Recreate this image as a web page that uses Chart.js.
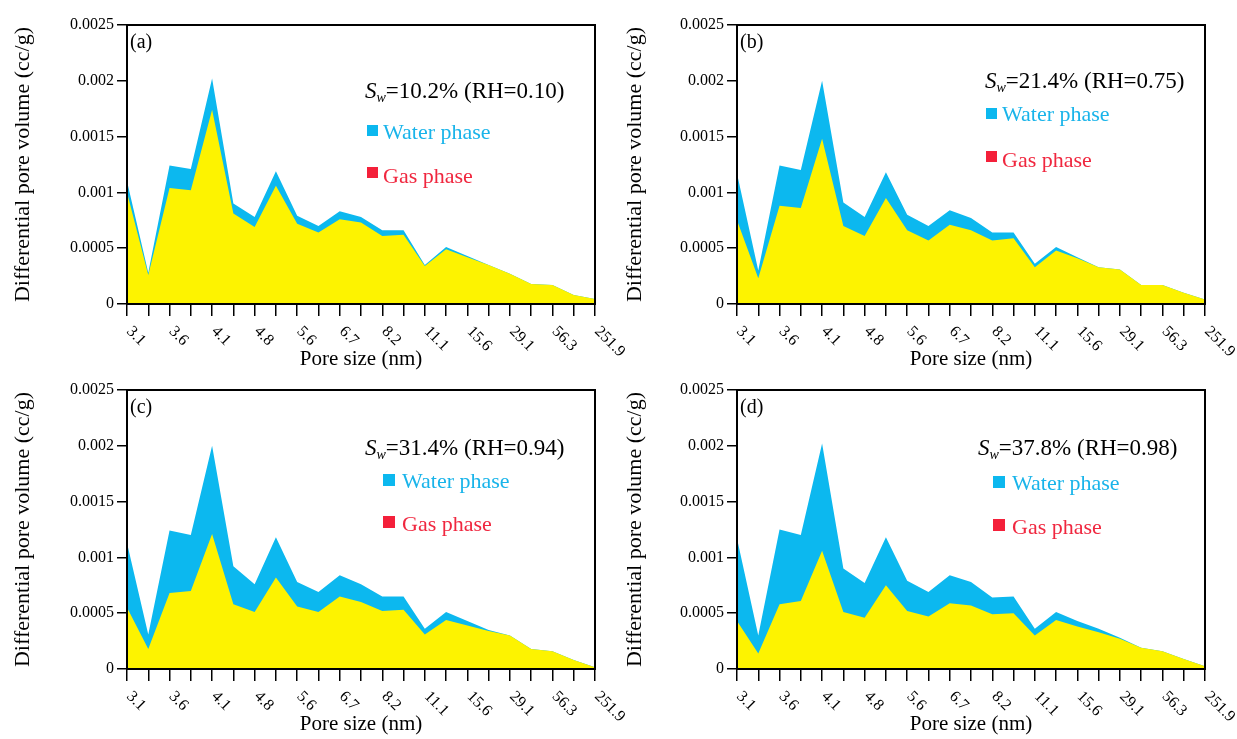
<!DOCTYPE html>
<html><head><meta charset="utf-8">
<script src="https://cdn.jsdelivr.net/npm/chart.js@4.4.1/dist/chart.umd.min.js"></script>
<style>
html,body{margin:0;padding:0;background:#fff;}
#wrap{position:relative;width:1237px;height:739px;overflow:hidden;background:#fff;}
canvas{position:absolute;}
</style></head><body>
<div id="wrap">
<canvas id="ca"></canvas><canvas id="cb"></canvas><canvas id="cc"></canvas><canvas id="cd"></canvas>
</div>
<script>
// ---- data ----
const categories = ['3.1','','3.6','','4.1','','4.8','','5.6','','6.7','','8.2','','11.1','','15.6','','29.1','','56.3','','251.9'];
const panelTags = ['(a)','(b)','(c)','(d)'];
const swValues = ['10.2%','21.4%','31.4%','37.8%'];
const rhValues = ['0.10','0.75','0.94','0.98'];
const seriesNames = ['Water phase','Gas phase'];

const totalA = [0.00110,0.00028,0.00124,0.00121,0.00202,0.00090,0.00078,0.00119,0.00079,0.00070,0.00083,0.00078,0.00066,0.00066,0.00035,0.00051,0.00043,0.00035,0.00027,0.00018,0.00017,0.00008,0.000045];
const gasA   = [0.00100,0.00026,0.00104,0.00102,0.00174,0.00081,0.00069,0.00106,0.00072,0.00064,0.00076,0.00073,0.00061,0.00062,0.00034,0.00049,0.00042,0.00035,0.00027,0.00018,0.00017,0.00008,0.000045];
const totalB = [0.00117,0.00030,0.00124,0.00120,0.00200,0.00091,0.00078,0.00118,0.00080,0.00070,0.00084,0.00077,0.00064,0.00064,0.00036,0.00051,0.00042,0.00033,0.00031,0.00017,0.00017,0.00010,0.00004];
const gasB   = [0.00075,0.00023,0.00088,0.00086,0.00148,0.00070,0.00061,0.00095,0.00066,0.00057,0.00071,0.00066,0.00057,0.00059,0.00033,0.00048,0.00041,0.00033,0.00031,0.00017,0.00017,0.00010,0.00004];
const totalC = [0.00113,0.00031,0.00124,0.00120,0.00200,0.00092,0.00076,0.00118,0.00078,0.00069,0.00084,0.00076,0.00065,0.00065,0.00036,0.00051,0.00043,0.00035,0.00030,0.00018,0.00016,0.00008,0.000015];
const gasC   = [0.00055,0.00018,0.00068,0.00070,0.00121,0.00058,0.00051,0.00082,0.00056,0.00051,0.00065,0.00060,0.00052,0.00053,0.00031,0.00044,0.00039,0.00034,0.00030,0.00018,0.00016,0.00008,0.000015];
const totalD = [0.00117,0.00030,0.00125,0.00120,0.00202,0.00090,0.00077,0.00118,0.00079,0.00069,0.00084,0.00078,0.00064,0.00065,0.00036,0.00051,0.00043,0.00036,0.00028,0.00019,0.00016,0.00009,0.000024];
const gasD   = [0.00043,0.00014,0.00058,0.00061,0.00106,0.00051,0.00046,0.00075,0.00052,0.00047,0.00059,0.00057,0.00049,0.00050,0.00030,0.00044,0.00038,0.00033,0.00027,0.00019,0.00016,0.00009,0.000024];

// ---- styling / layout ----
const FONT = '"Liberation Serif", "Times New Roman", serif';
const BLUE = '#0cb8ef', YELLOW = '#fdf300';
const WATER_TXT = '#19b4ea', GAS_TXT = '#f0273f', GAS_SQ = '#f4203a';

const panels = [
  {id:'ca', total: totalA, gas: gasA, cv:{x:0,y:0,w:630,h:374},   plot:{l:127,t:25,r:595,b:304},
   ann:{x:238,y:73}, sq:{x:240,s:11,wt:100,gt:142}, txt:{x:256,wy:114,gy:158}},
  {id:'cb', total: totalB, gas: gasB, cv:{x:612,y:0,w:625,h:374}, plot:{l:737,t:25,r:1205,b:304},
   ann:{x:248,y:63}, sq:{x:249,s:11,wt:83,gt:126}, txt:{x:265,wy:96,gy:142}},
  {id:'cc', total: totalC, gas: gasC, cv:{x:0,y:365,w:630,h:374}, plot:{l:127,t:390,r:595,b:669},
   ann:{x:238,y:65}, sq:{x:256,s:12,wt:84,gt:126}, txt:{x:275,wy:98,gy:141}},
  {id:'cd', total: totalD, gas: gasD, cv:{x:612,y:365,w:625,h:374}, plot:{l:737,t:390,r:1205,b:669},
   ann:{x:241,y:65}, sq:{x:256,s:12,wt:86,gt:129}, txt:{x:275,wy:100,gy:144}}
];

const decor = {
  id: 'decor',
  afterDraw(chart, args, opts) {
    const p = panels[opts.idx];
    const ctx = chart.ctx, ca = chart.chartArea, xs = chart.scales.x;
    ctx.save();
    // frame
    ctx.strokeStyle = '#000'; ctx.lineWidth = 2;
    ctx.strokeRect(ca.left, ca.top, ca.right - ca.left, ca.bottom - ca.top);
    // rotated x tick labels
    ctx.fillStyle = '#000';
    ctx.font = '16px ' + FONT;
    ctx.textAlign = 'left'; ctx.textBaseline = 'middle';
    categories.forEach((lab, i) => {
      if (!lab) return;
      const x = xs.getPixelForTick(i);
      ctx.save();
      ctx.translate(x + 2, ca.bottom + 25);
      ctx.rotate(Math.PI / 4);
      ctx.fillText(lab, 0, 0);
      ctx.restore();
    });
    // panel tag
    ctx.textBaseline = 'alphabetic';
    ctx.font = '20px ' + FONT;
    ctx.fillText(panelTags[opts.idx], ca.left + 3, ca.top + 23);
    // Sw annotation
    let x = ca.left + p.ann.x, y = ca.top + p.ann.y;
    ctx.font = 'italic 23px ' + FONT;
    ctx.fillText('S', x, y);
    let dx = ctx.measureText('S').width;
    ctx.font = 'italic 14px ' + FONT;
    ctx.fillText('w', x + dx, y + 4);
    dx += ctx.measureText('w').width;
    ctx.font = '23px ' + FONT;
    ctx.fillText('=' + swValues[opts.idx] + ' (RH=' + rhValues[opts.idx] + ')', x + dx, y);
    // legend
    ctx.fillStyle = BLUE;
    ctx.fillRect(ca.left + p.sq.x, ca.top + p.sq.wt, p.sq.s, p.sq.s);
    ctx.fillStyle = GAS_SQ;
    ctx.fillRect(ca.left + p.sq.x, ca.top + p.sq.gt, p.sq.s, p.sq.s);
    ctx.font = '22px ' + FONT;
    ctx.fillStyle = WATER_TXT;
    ctx.fillText(seriesNames[0], ca.left + p.txt.x, ca.top + p.txt.wy);
    ctx.fillStyle = GAS_TXT;
    ctx.fillText(seriesNames[1], ca.left + p.txt.x, ca.top + p.txt.gy);
    ctx.restore();
  }
};

panels.forEach((p, idx) => {
  const cv = document.getElementById(p.id);
  cv.width = p.cv.w; cv.height = p.cv.h;
  cv.style.left = p.cv.x + 'px'; cv.style.top = p.cv.y + 'px';
  cv.style.width = p.cv.w + 'px'; cv.style.height = p.cv.h + 'px';
  const yW = p.plot.l - p.cv.x;
  const xH = p.cv.h - (p.plot.b - p.cv.y);
  new Chart(cv, {
    type: 'line',
    data: {
      labels: categories,
      datasets: [
        {label: seriesNames[1], data: p.gas, backgroundColor: YELLOW, borderWidth: 0, borderColor: 'rgba(0,0,0,0)', pointRadius: 0, fill: 'origin', tension: 0},
        {label: seriesNames[0], data: p.total, backgroundColor: BLUE, borderWidth: 0, borderColor: 'rgba(0,0,0,0)', pointRadius: 0, fill: 'origin', tension: 0}
      ]
    },
    options: {
      responsive: false, animation: false, devicePixelRatio: 1,
      layout: {padding: {left: 0, bottom: 0, top: p.plot.t - p.cv.y, right: p.cv.w - (p.plot.r - p.cv.x)}},
      plugins: {legend: {display: false}, tooltip: {enabled: false}, decor: {idx: idx}},
      scales: {
        x: {
          type: 'category',
          ticks: {display: false, autoSkip: false},
          grid: {display: true, drawOnChartArea: false, drawTicks: true, tickLength: 12, color: '#000', lineWidth: 1.5},
          border: {display: true, color: '#000', width: 2},
          title: {display: true, text: 'Pore size (nm)', color: '#000', font: {family: FONT, size: 21}, padding: {top: 0, bottom: 2}},
          afterFit(s) { s.height = xH; }
        },
        y: {
          min: 0, max: 0.0025,
          ticks: {stepSize: 0.0005, color: '#000', padding: 3, font: {family: FONT, size: 16},
                  callback: v => String(Number(v.toFixed(4)))},
          grid: {display: true, drawOnChartArea: false, drawTicks: true, tickLength: 10, color: '#000', lineWidth: 1.5},
          border: {display: true, color: '#000', width: 2},
          title: {display: true, text: 'Differential pore volume (cc/g)', color: '#000', font: {family: FONT, size: 22}, padding: {top: 10, bottom: 0}},
          afterFit(s) { s.width = yW; }
        }
      }
    },
    plugins: [decor]
  });
});
</script>
</body></html>
